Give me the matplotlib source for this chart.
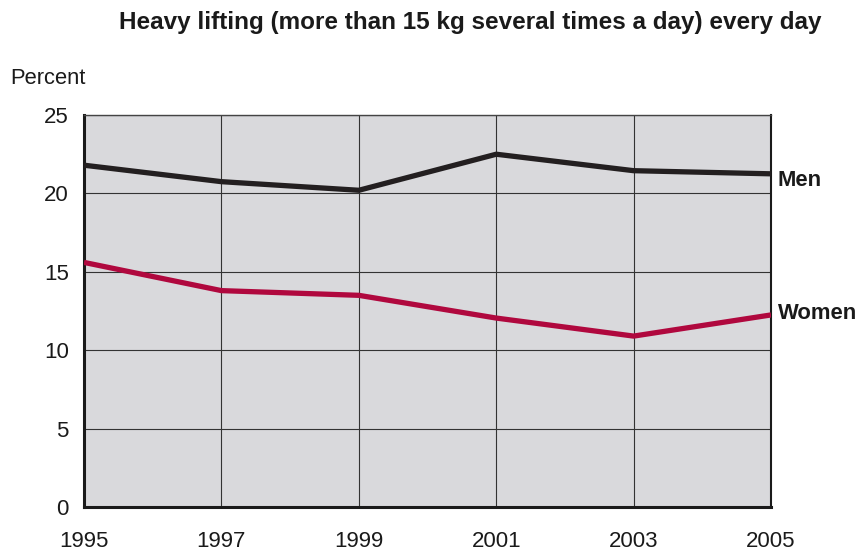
import matplotlib.pyplot as plt

plt.rcParams['font.family'] = ['Liberation Sans', 'DejaVu Sans']

years = [1995, 1997, 1999, 2001, 2003, 2005]
men = [21.8, 20.75, 20.2, 22.5, 21.45, 21.25]
women = [15.6, 13.8, 13.5, 12.05, 10.9, 12.25]
yticks = [0, 5, 10, 15, 20, 25]

fig = plt.figure(figsize=(8.59, 5.53), dpi=100)
ax = fig.add_axes([0.0978, 0.0832, 0.7998, 0.7088])
ax.set_facecolor('#d9d9dc')

ax.plot(years, men, color='#231f20', lw=3.8, solid_capstyle='butt', zorder=3)
ax.plot(years, women, color='#b0083e', lw=3.8, solid_capstyle='butt', zorder=3)

ax.set_xlim(1995, 2005)
ax.set_ylim(0, 25)
ax.set_xticks(years)
ax.set_yticks(yticks)
ax.grid(True, color='#333333', lw=0.8)
ax.tick_params(length=0, labelsize=16, colors='#1a1a1a')
ax.tick_params(axis='x', pad=17)
ax.tick_params(axis='y', pad=11)

for side in ['left', 'bottom']:
    ax.spines[side].set_linewidth(2.2)
    ax.spines[side].set_color('#1a1a1a')
ax.spines['right'].set_linewidth(1.5)
ax.spines['right'].set_color('#1a1a1a')
ax.spines['top'].set_linewidth(1.0)
ax.spines['top'].set_color('#444444')

ax.text(1.01, men[-1] - 0.4, 'Men', transform=ax.get_yaxis_transform(), fontsize=15.8,
        fontweight='bold', va='center', ha='left', color='#1a1a1a')
ax.text(1.01, women[-1] + 0.1, 'Women', transform=ax.get_yaxis_transform(), fontsize=15.8,
        fontweight='bold', va='center', ha='left', color='#1a1a1a')

fig.text(0.547, 0.96, 'Heavy lifting (more than 15 kg several times a day) every day',
         ha='center', va='center', fontsize=17.5, fontweight='bold', color='#1a1a1a')
fig.text(0.012, 0.858, 'Percent', ha='left', va='center', fontsize=15.8, color='#1a1a1a')

fig.savefig('out.png', dpi=100)
